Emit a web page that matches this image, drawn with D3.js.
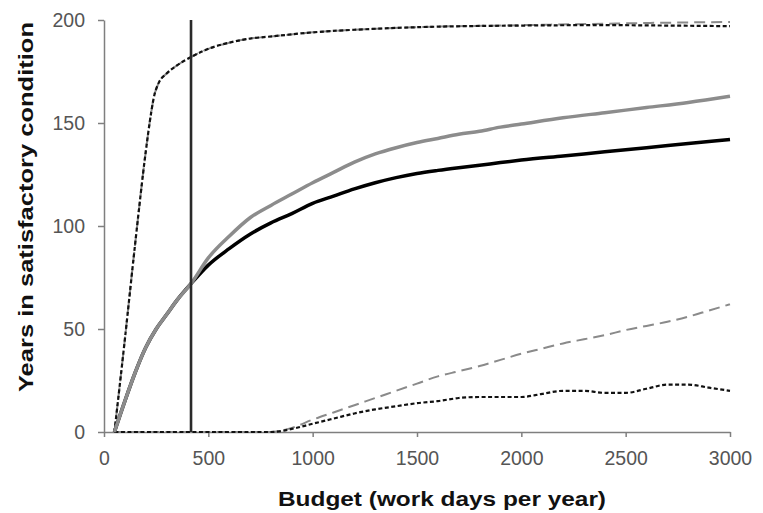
<!DOCTYPE html>
<html>
<head>
<meta charset="utf-8">
<script src="https://cdn.jsdelivr.net/npm/d3@7"></script>
<style>
  body { margin: 0; background: #fff; }
  text { font-family: "Liberation Sans", Arial, sans-serif; }
</style>
</head>
<body>
<div id="chart"></div>
<script>
// Budget values (work days per year) for each series
const budgetMain = [50, 100, 150, 200, 250, 300, 350, 417, 500, 600, 700, 800, 900, 1000, 1100, 1200, 1300, 1400, 1500, 1600, 1700, 1800, 1900, 2000, 2200, 2400, 2600, 2800, 3000];
const graySolid  = [0, 15, 29, 41, 50, 57, 64, 72, 84.5, 95, 104, 110, 115.5, 121, 126, 131, 135, 138, 140.5, 142.5, 144.5, 146, 148, 149.5, 152.5, 155, 157.5, 160, 163];
const blackSolid = [0, 15, 29, 41, 50, 57, 64, 72, 81, 89, 96, 101.5, 106, 111, 114.5, 118, 121, 123.5, 125.5, 127, 128.3, 129.5, 130.8, 132, 134, 136, 138, 140, 142];

const budgetTop = [50, 100, 150, 200, 220, 240, 260, 300, 350, 417, 500, 600, 700, 800, 1000, 1250, 1500, 2000, 2400, 2700, 3000];
const grayTop   = [0, 45, 92, 136, 151, 163, 169, 174, 178, 182, 186, 189, 191, 192, 194, 195.5, 196.5, 197.5, 198.2, 198.7, 199];
const blackTop  = [0, 45, 92, 136, 151, 163, 169, 174, 178, 182, 186, 189, 191, 192, 194, 195.5, 196.5, 197.3, 197.5, 197.3, 197];

const budgetLow = [50, 400, 800, 900, 1000, 1100, 1200, 1300, 1400, 1500, 1600, 1700, 1800, 1900, 2000, 2100, 2200, 2300, 2400, 2500, 2600, 2700, 2800, 2900, 3000];
const grayLow   = [0, 0, 0, 2, 6, 9.5, 13, 16.5, 20, 23.5, 27, 29.5, 32, 35, 38, 40.5, 43, 45, 47, 49.5, 51.5, 53.5, 56, 59, 62];
const blackLow  = [0, 0, 0, 1.5, 4, 6.5, 9, 11, 12.5, 14, 15, 16.5, 17, 17, 17, 18.5, 20, 20, 19, 19, 21, 23, 23, 21.5, 20];

const xTicks = [0, 500, 1000, 1500, 2000, 2500, 3000];
const yTicks = [0, 50, 100, 150, 200];
const budgetMarker = 417;

const width = 763;
const height = 513;
const margin = {top: 20, right: 33, bottom: 81, left: 104};

const svg = d3.select("#chart")
    .append("svg")
    .attr("width", width)
    .attr("height", height)
    .attr("viewBox", [0, 0, width, height]);

const x = d3.scaleLinear([0, 3000], [margin.left, width - margin.right]);
const y = d3.scaleLinear([0, 200], [height - margin.bottom, margin.top]);

// Axes
const axisColor = "#7f7f7f";
const labelColor = "#555";

svg.append("g")
    .attr("transform", `translate(0,${y(0)})`)
    .call(d3.axisBottom(x).tickValues(xTicks).tickFormat(d3.format("d")).tickSize(5).tickPadding(14).tickSizeOuter(0))
    .call(g => g.select(".domain").attr("stroke", axisColor).attr("stroke-width", 1.5))
    .call(g => g.selectAll(".tick line").attr("stroke", axisColor).attr("stroke-width", 1.5))
    .call(g => g.selectAll(".tick text").attr("fill", labelColor).attr("font-size", 19.5).attr("font-family", "Liberation Sans, Arial, sans-serif"));

svg.append("g")
    .attr("transform", `translate(${x(0)},0)`)
    .call(d3.axisLeft(y).tickValues(yTicks).tickFormat(d3.format("d")).tickSize(6).tickPadding(13).tickSizeOuter(0))
    .call(g => g.select(".domain").attr("stroke", axisColor).attr("stroke-width", 1.5))
    .call(g => g.selectAll(".tick text").attr("fill", labelColor).attr("font-size", 19.5).attr("font-family", "Liberation Sans, Arial, sans-serif"))
    .call(g => g.selectAll(".tick line").attr("stroke", axisColor).attr("stroke-width", 1.5));

// Axis titles
svg.append("text")
    .attr("x", 442)
    .attr("y", 506)
    .attr("text-anchor", "middle")
    .attr("font-size", 21)
    .attr("font-weight", "bold")
    .attr("fill", "#111")
    .attr("textLength", 328)
    .attr("lengthAdjust", "spacingAndGlyphs")
    .text("Budget (work days per year)");

svg.append("text")
    .attr("transform", `translate(33,207) rotate(-90)`)
    .attr("text-anchor", "middle")
    .attr("font-size", 21)
    .attr("font-weight", "bold")
    .attr("fill", "#111")
    .attr("textLength", 370)
    .attr("lengthAdjust", "spacingAndGlyphs")
    .text("Years in satisfactory condition");

// Lines
const line = d3.line()
    .x(d => x(d[0]))
    .y(d => y(d[1]))
    .curve(d3.curveMonotoneX);

const series = [
  {xs: budgetLow, ys: grayLow, color: "#8a8a8a", width: 2, dash: "11,6"},
  {xs: budgetLow, ys: blackLow, color: "#111", width: 2.2, dash: "4,2.5"},
  {xs: budgetTop, ys: grayTop, color: "#8a8a8a", width: 2, dash: "11,6"},
  {xs: budgetTop, ys: blackTop, color: "#111", width: 2.2, dash: "4,2.5"},
  {xs: budgetMain, ys: blackSolid, color: "#000", width: 3.5, dash: null},
  {xs: budgetMain, ys: graySolid, color: "#8c8c8c", width: 3.5, dash: null}
];

svg.append("g")
    .attr("fill", "none")
    .selectAll("path")
    .data(series)
    .join("path")
    .attr("stroke", d => d.color)
    .attr("stroke-width", d => d.width)
    .attr("stroke-dasharray", d => d.dash)
    .attr("d", d => line(d3.zip(d.xs, d.ys)));

// Vertical marker at current budget
svg.append("line")
    .attr("x1", x(budgetMarker))
    .attr("x2", x(budgetMarker))
    .attr("y1", y(0))
    .attr("y2", y(200))
    .attr("stroke", "#2a2a2a")
    .attr("stroke-width", 2.6);
</script>
</body>
</html>
